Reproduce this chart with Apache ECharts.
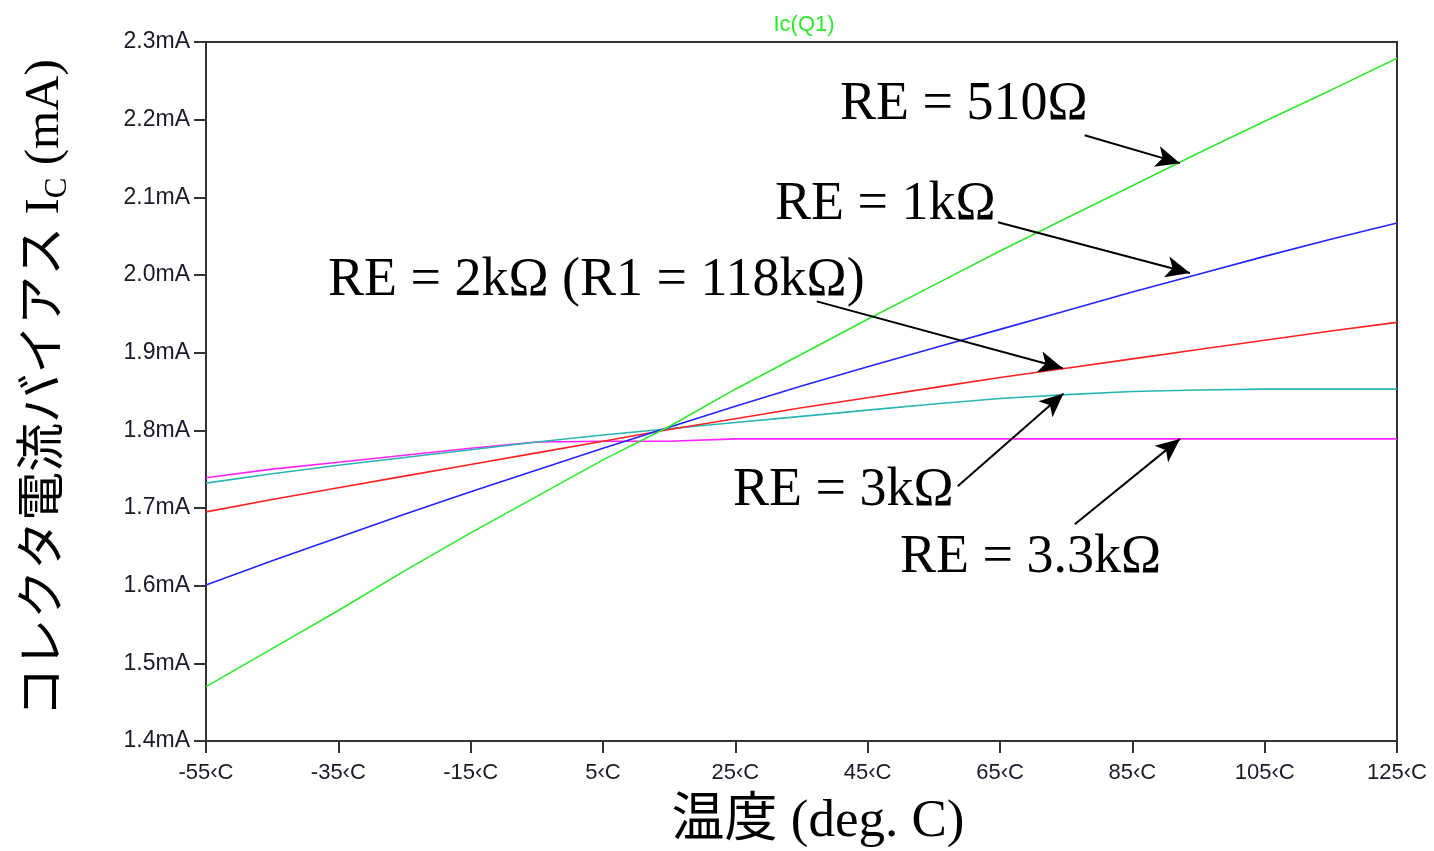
<!DOCTYPE html>
<html>
<head>
<meta charset="utf-8">
<script src="https://cdn.jsdelivr.net/npm/echarts@6/dist/echarts.min.js"></script>
<style>
html,body{margin:0;padding:0;background:#fff;}
#chart{width:1434px;height:851px;}
</style>
</head>
<body>
<div id="chart"></div>
<script>
// Temperature samples (deg C)
const temps = [-55,-45,-35,-25,-15,-5,5,15,25,35,45,55,65,75,85,95,105,115,125];
// Collector bias current Ic (mA) for each emitter resistor
const ic510 = [1.470,1.519,1.568,1.619,1.668,1.715,1.762,1.805,1.853,1.898,1.943,1.987,2.031,2.073,2.115,2.157,2.198,2.238,2.279];
const ic1k  = [1.601,1.632,1.662,1.692,1.721,1.749,1.777,1.804,1.831,1.857,1.882,1.906,1.930,1.954,1.978,2.001,2.024,2.046,2.067];
const ic2k  = [1.695,1.711,1.726,1.741,1.756,1.771,1.786,1.801,1.815,1.829,1.842,1.855,1.868,1.880,1.892,1.904,1.916,1.928,1.939];
const ic3k  = [1.732,1.744,1.755,1.765,1.775,1.785,1.794,1.802,1.810,1.818,1.826,1.834,1.841,1.846,1.850,1.852,1.853,1.853,1.853];
const ic3k3 = [1.739,1.750,1.759,1.768,1.777,1.785,1.786,1.786,1.789,1.789,1.789,1.789,1.789,1.789,1.789,1.789,1.789,1.789,1.789];
// Axis ticks
const xMin = -55, xMax = 125, xStep = 20;
const yMin = 1.4, yMax = 2.3, yStep = 0.1;
// Annotation labels and arrows (start -> end, data coords)
const annoTexts = ['RE = 510Ω','RE = 1kΩ','RE = 2kΩ (R1 = 118kΩ)','RE = 3kΩ','RE = 3.3kΩ'];
const arrowFrom = [[77.8,2.180],[64.7,2.068],[37.3,1.966],[58.6,1.728],[76.3,1.679]];
const arrowTo   = [[92.2,2.144],[93.7,2.0026],[74.5,1.880],[74.6,1.8475],[92.2,1.789]];

const chart = echarts.init(document.getElementById('chart'));
const mk = (vals) => temps.map((t,i)=>[t, vals[i]]);
const lineSeries = (name, vals, color) => ({
  name, type:'line', data: mk(vals), showSymbol:false, symbol:'none',
  lineStyle:{color, width:1.6}, itemStyle:{color}, silent:true
});
const annoFont = '54px "Liberation Serif"';

const option = {
  animation:false,
  backgroundColor:'#fff',
  title:{
    text:'Ic(Q1)', left:799, top:9, textAlign:'center',
    textStyle:{color:'#2ee82e', fontSize:22, fontWeight:'normal', fontFamily:'Liberation Sans'}
  },
  grid:{left:206, right:37, top:42, bottom:110, show:true, borderColor:'#333', borderWidth:2, containLabel:false},
  xAxis:{
    type:'value', min:xMin, max:xMax, interval:xStep,
    axisLine:{show:true, onZero:false, lineStyle:{color:'#333', width:2}},
    axisTick:{show:true, length:12, lineStyle:{color:'#333', width:2}},
    splitLine:{show:false},
    axisLabel:{margin:21, color:'#1a1a2a', fontSize:22, fontFamily:'Liberation Sans',
      formatter:(v)=> Math.round(v)+'‹C', showMinLabel:true, showMaxLabel:true}
  },
  yAxis:{
    type:'value', min:yMin, max:yMax, interval:yStep,
    axisLine:{show:true, onZero:false, lineStyle:{color:'#333', width:2}},
    axisTick:{show:true, length:12, lineStyle:{color:'#333', width:2}},
    splitLine:{show:false},
    axisLabel:{margin:16, color:'#1a1a2a', fontSize:23, fontFamily:'Liberation Sans',
      formatter:(v)=> v.toFixed(1)+'mA'}
  },
  series:[
    lineSeries('RE=3.3k', ic3k3, '#ff22ff'),
    lineSeries('RE=3k', ic3k, '#2ab5b5'),
    lineSeries('RE=2k', ic2k, '#ff2020'),
    lineSeries('RE=1k', ic1k, '#2424ff'),
    Object.assign(lineSeries('RE=510', ic510, '#2ee82e'), {
      markLine:{
        silent:true, animation:false,
        symbol:['none','arrow'], symbolSize:[16,24],
        label:{show:false},
        lineStyle:{color:'#000', width:2, type:'solid'},
        emphasis:{disabled:true},
        data: arrowFrom.map((p,i)=>[{coord:p},{coord:arrowTo[i]}])
      }
    })
  ],
  graphic:[
    {type:'text', left:840, top:78, style:{text:annoTexts[0], font:annoFont, fill:'#000'}},
    {type:'text', left:775, top:178, style:{text:annoTexts[1], font:annoFont, fill:'#000'}},
    {type:'text', left:328, top:254, style:{text:annoTexts[2], font:annoFont, fill:'#000'}},
    {type:'text', left:733, top:464, style:{text:annoTexts[3], font:annoFont, fill:'#000'}},
    {type:'text', left:900, top:531, style:{text:annoTexts[4], font:annoFont, fill:'#000'}},
    {type:'text', x:818, y:822, style:{text:'温度 (deg. C)', font:'53px "Liberation Serif", "Noto Sans CJK JP"', fill:'#000', align:'center', verticalAlign:'middle'}},
    {type:'text', x:45, y:388, rotation:Math.PI/2,
      style:{
        text:'{a|コレクタ電流バイアス I}{s|C}{a| (mA)}',
        align:'center', verticalAlign:'middle', fill:'#000',
        rich:{
          a:{fontSize:49, fontFamily:'"Liberation Serif", "Noto Sans CJK JP"', lineHeight:56, fill:'#000'},
          s:{fontSize:31, fontFamily:'"Liberation Serif"', lineHeight:56, padding:[16,0,0,0], verticalAlign:'bottom', fill:'#000'}
        }
      }}
  ]
};
chart.setOption(option);
</script>
</body>
</html>
